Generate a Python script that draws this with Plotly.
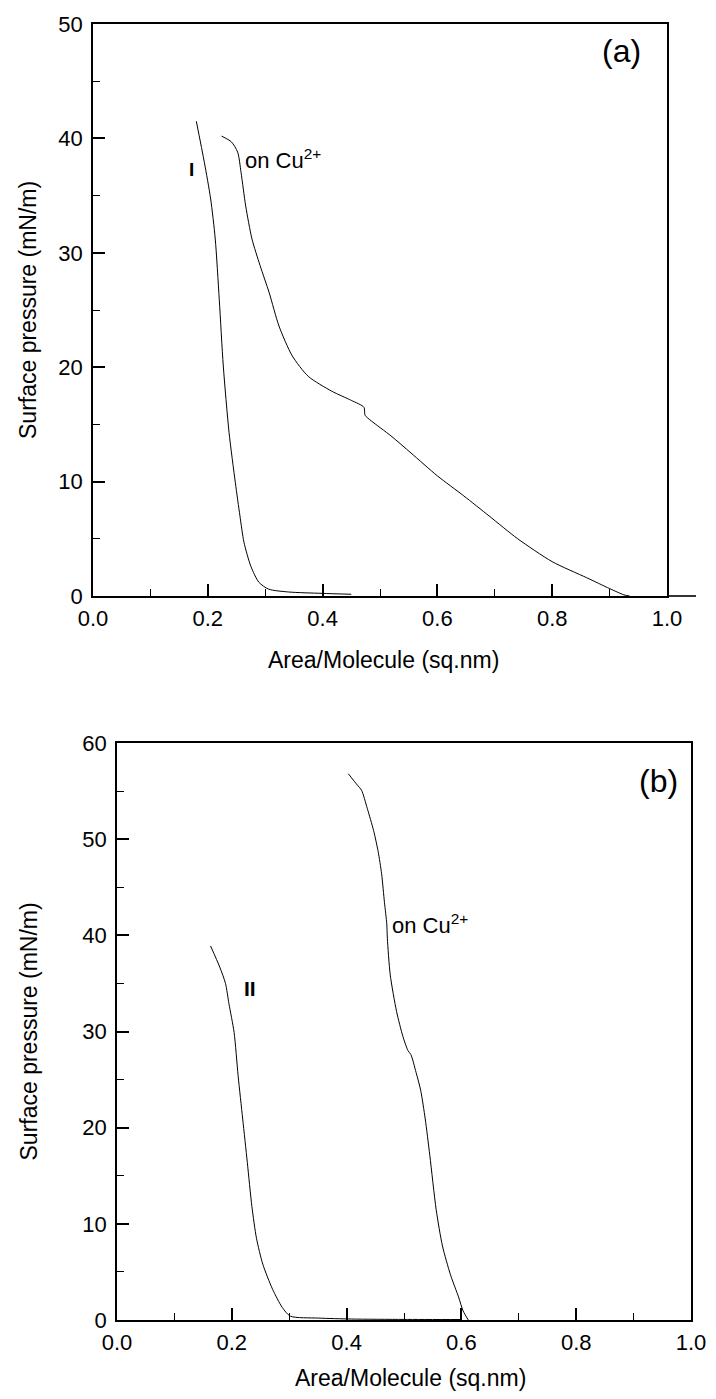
import plotly.graph_objects as go

# ---------------- data ----------------
# panel (a)
a_I_x = [0.180, 0.194, 0.205, 0.213, 0.220, 0.227, 0.237, 0.248, 0.256, 0.263, 0.275, 0.289, 0.306, 0.341, 0.399, 0.450]
a_I_y = [41.5, 37.9, 34.7, 31.2, 25.9, 20.1, 14.3, 9.9, 7.0, 4.7, 2.6, 1.2, 0.6, 0.35, 0.23, 0.15]

a_cu_x = [0.224, 0.241, 0.252, 0.258, 0.266, 0.277, 0.291, 0.307, 0.324, 0.347, 0.375, 0.416, 0.450, 0.472, 0.474,
          0.485, 0.519, 0.554, 0.600, 0.646, 0.690, 0.740, 0.800, 0.860, 0.900, 0.925, 0.935]
a_cu_y = [40.2, 39.7, 38.8, 37.0, 34.1, 31.2, 28.9, 26.5, 23.6, 21.0, 19.2, 17.9, 17.1, 16.5, 15.8,
          15.3, 14.0, 12.5, 10.5, 8.75, 7.0, 5.0, 3.0, 1.6, 0.65, 0.1, 0.0]

# panel (b)
b_II_x = [0.163, 0.179, 0.189, 0.195, 0.204, 0.211, 0.219, 0.227, 0.235, 0.243, 0.254, 0.271, 0.288, 0.302, 0.351, 0.409, 0.500, 0.600]
b_II_y = [38.9, 36.7, 35.0, 32.9, 29.9, 25.4, 20.9, 16.4, 11.8, 8.5, 5.8, 3.2, 1.3, 0.4, 0.2, 0.1, 0.06, 0.05]

b_cu_x = [0.403, 0.419, 0.426, 0.436, 0.447, 0.455, 0.461, 0.466, 0.470, 0.471, 0.476, 0.487, 0.498, 0.507, 0.512,
          0.521, 0.529, 0.537, 0.545, 0.556, 0.567, 0.581, 0.595, 0.603, 0.612]
b_cu_y = [56.8, 55.6, 55.1, 53.2, 50.9, 48.7, 46.4, 43.4, 41.2, 39.7, 35.9, 32.1, 29.5, 28.0, 27.6,
          25.75, 23.9, 20.9, 17.1, 11.5, 7.7, 4.7, 2.4, 0.94, 0.0]

x_ticks = [0.0, 0.2, 0.4, 0.6, 0.8, 1.0]
x_tick_text = ["0.0", "0.2", "0.4", "0.6", "0.8", "1.0"]
ya_ticks = [0, 10, 20, 30, 40, 50]
yb_ticks = [0, 10, 20, 30, 40, 50, 60]

x_title = "Area/Molecule (sq.nm)"
y_title = "Surface pressure (mN/m)"

# ---------------- figure ----------------
OFF = 8                      # page body margin
W, H = 716 - OFF, 1399 - 2 * OFF
FONT = "Liberation Sans, Arial, sans-serif"

fig = go.Figure()
line_style = dict(color="black", width=1, shape="spline", smoothing=0.7)
fig.add_trace(go.Scatter(x=a_I_x, y=a_I_y, mode="lines", line=line_style, xaxis="x", yaxis="y", showlegend=False))
fig.add_trace(go.Scatter(x=a_cu_x, y=a_cu_y, mode="lines", line=line_style, xaxis="x", yaxis="y", showlegend=False))
fig.add_trace(go.Scatter(x=b_II_x, y=b_II_y, mode="lines", line=line_style, xaxis="x2", yaxis="y2", showlegend=False))
fig.add_trace(go.Scatter(x=b_cu_x, y=b_cu_y, mode="lines", line=line_style, xaxis="x2", yaxis="y2", showlegend=False))

# pixel geometry (window coordinates) of the two plot areas
ta_l, ta_r, ta_t, ta_b = 93, 667, 24, 596
tb_l, tb_r, tb_t, tb_b = 117, 691, 743, 1320


def px_x(p):
    return (p - OFF) / W


def px_y(p):
    return 1 - (p - OFF) / H


TICKFONT = dict(family=FONT, size=22, color="black")
common_x = dict(
    range=[0, 1], tickvals=x_ticks, ticktext=x_tick_text, ticks="inside", ticklen=12, tickwidth=1.6,
    tickcolor="black", showline=True, linecolor="black", linewidth=1.8, mirror=True, showgrid=False,
    zeroline=False, tickfont=TICKFONT, ticklabelstandoff=2, automargin=False,
    minor=dict(dtick=0.1, tick0=0, ticks="inside", ticklen=7, tickwidth=1.4, tickcolor="black", showgrid=False),
)
common_y = dict(
    ticks="inside", ticklen=12, tickwidth=1.6, tickcolor="black", showline=True, linecolor="black",
    linewidth=1.8, mirror=True, showgrid=False, zeroline=False, automargin=False,
    tickfont=TICKFONT, ticklabelstandoff=4,
    minor=dict(dtick=5, tick0=0, ticks="inside", ticklen=7, tickwidth=1.4, tickcolor="black", showgrid=False),
)

fig.update_layout(
    width=W, height=H, margin=dict(l=0, r=0, t=0, b=0, autoexpand=False),
    paper_bgcolor="white", plot_bgcolor="white",
    font=dict(family=FONT, color="black"),
    xaxis=dict(common_x, domain=[px_x(ta_l), px_x(ta_r)], anchor="y"),
    yaxis=dict(common_y, domain=[px_y(ta_b), px_y(ta_t)], range=[0, 50], tickvals=ya_ticks, anchor="x"),
    xaxis2=dict(common_x, domain=[px_x(tb_l), px_x(tb_r)], anchor="y2"),
    yaxis2=dict(common_y, domain=[px_y(tb_b), px_y(tb_t)], range=[0, 60], tickvals=yb_ticks, anchor="x2"),
)

# x axis line of panel (a) runs a little past the frame
fig.add_shape(type="line", xref="paper", yref="paper", x0=px_x(ta_r), x1=px_x(696),
              y0=px_y(ta_b), y1=px_y(ta_b), line=dict(color="black", width=1.6))

C = dict(xanchor="center", yanchor="middle", showarrow=False)
ann = []
# axis titles
ann.append(dict(C, text=y_title, xref="paper", yref="paper", x=px_x(28), y=px_y((ta_t + ta_b) / 2),
                textangle=-90, font=dict(size=23, family=FONT)))
ann.append(dict(C, text=y_title, xref="paper", yref="paper", x=px_x(28), y=px_y((tb_t + tb_b) / 2),
                textangle=-90, font=dict(size=23, family=FONT)))
ann.append(dict(C, text=x_title, xref="paper", yref="paper", x=px_x(383), y=px_y(660),
                font=dict(size=23, family=FONT)))
ann.append(dict(C, text=x_title, xref="paper", yref="paper", x=px_x(410), y=px_y(1378),
                font=dict(size=23, family=FONT)))
# panel labels & curve labels
ann.append(dict(C, text="(a)", xref="x", yref="y", x=0.92, y=47.6, font=dict(size=32, family=FONT)))
ann.append(dict(C, text="(b)", xref="x2", yref="y2", x=0.943, y=56.0, font=dict(size=32, family=FONT)))
ann.append(dict(C, text="<b>I</b>", xref="x", yref="y", x=0.172, y=37.3, font=dict(size=19, family=FONT)))
ann.append(dict(C, text="on Cu<sup>2+</sup>", xref="x", yref="y", x=0.262, y=38.2, font=dict(size=22, family=FONT)))
ann[-1]["xanchor"] = "left"
ann.append(dict(C, text="<b>II</b>", xref="x2", yref="y2", x=0.232, y=34.5, font=dict(size=21, family=FONT)))
ann.append(dict(C, text="on Cu<sup>2+</sup>", xref="x2", yref="y2", x=0.476, y=41.2, font=dict(size=22, family=FONT)))
ann[-1]["xanchor"] = "left"
fig.update_layout(annotations=ann)

fig.write_html("out.html")
